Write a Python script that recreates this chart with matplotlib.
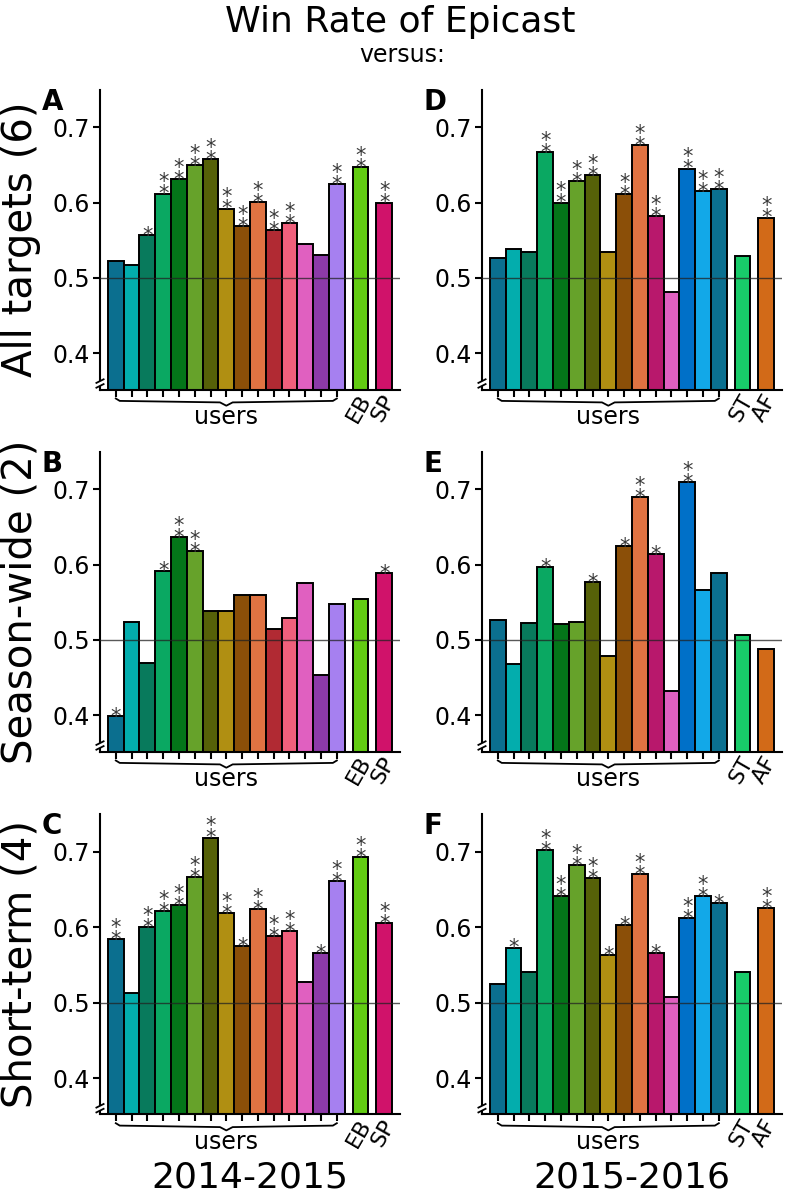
import matplotlib.pyplot as plt
import matplotlib.transforms as mtransforms
from matplotlib.patches import Rectangle

# colours of the bars, one per forecaster
colors_1415 = ["#0b6f8f", "#03adad", "#087a5c", "#0aa862", "#047519", "#66a22a",
               "#566108", "#b08f12", "#8b4f08", "#e07342", "#b12a33", "#f0607c",
               "#e060c0", "#8c3aa8", "#a680f0", "#62cc12", "#d0126a"]
colors_1516 = ["#0b6f8f", "#03adad", "#087a5c", "#0aa862", "#047519", "#66a22a",
               "#566108", "#b08f12", "#8b4f08", "#e07342", "#b8186c", "#e060c0",
               "#0070c8", "#12a8e8", "#0b7090", "#18cc6a", "#d26a18"]
extra_1415 = ["EB", "SP"]
extra_1516 = ["ST", "AF"]

user_pos = list(range(15))
extra_pos = [15.5, 17]

# win rates, 15 users then the two baselines; sig = number of stars
a_vals = [0.522, 0.517, 0.557, 0.612, 0.631, 0.650, 0.658, 0.592, 0.569, 0.601,
          0.563, 0.573, 0.545, 0.530, 0.624, 0.647, 0.600]
a_sig = [0, 0, 1, 2, 2, 2, 2, 2, 2, 2, 2, 2, 0, 0, 2, 2, 2]
b_vals = [0.399, 0.524, 0.469, 0.592, 0.637, 0.618, 0.538, 0.538, 0.560, 0.559,
          0.515, 0.529, 0.575, 0.454, 0.548, 0.554, 0.589]
b_sig = [1, 0, 0, 1, 2, 2, 0, 0, 0, 0, 0, 0, 0, 0, 0, 0, 1]
c_vals = [0.584, 0.513, 0.600, 0.622, 0.629, 0.667, 0.719, 0.619, 0.575, 0.624,
          0.588, 0.595, 0.528, 0.566, 0.661, 0.693, 0.605]
c_sig = [2, 0, 2, 2, 2, 2, 2, 2, 1, 2, 2, 2, 0, 1, 2, 2, 2]
d_vals = [0.526, 0.538, 0.535, 0.667, 0.600, 0.629, 0.636, 0.535, 0.611, 0.676,
          0.582, 0.482, 0.645, 0.615, 0.618, 0.529, 0.580]
d_sig = [0, 0, 0, 2, 2, 2, 2, 0, 2, 2, 2, 0, 2, 2, 2, 0, 2]
e_vals = [0.527, 0.468, 0.523, 0.597, 0.521, 0.524, 0.577, 0.479, 0.625, 0.689,
          0.614, 0.432, 0.709, 0.566, 0.589, 0.506, 0.488]
e_sig = [0, 0, 0, 1, 0, 0, 1, 0, 1, 2, 1, 0, 2, 0, 0, 0, 0]
f_vals = [0.525, 0.573, 0.540, 0.702, 0.641, 0.682, 0.665, 0.563, 0.603, 0.671,
          0.566, 0.507, 0.612, 0.641, 0.632, 0.540, 0.626]
f_sig = [0, 1, 0, 2, 2, 2, 2, 1, 1, 2, 1, 0, 2, 2, 1, 0, 2]

row_labels = ["All targets (6)", "Season-wide (2)", "Short-term (4)"]
col_labels = ["2014-2015", "2015-2016"]

W, H = 787, 1197
fig = plt.figure(figsize=(W / 100, H / 100), dpi=100)

lefts = [100, 482]
bottoms = [389.5, 751.5, 1114.2]
axw, axh = 300, 300


def panel(ax, vals, sig, colors, extra, letter):
    pos = user_pos + extra_pos
    ax.bar(pos, vals, width=1.0, color=colors, edgecolor="black",
           linewidth=1.4, zorder=2)
    ax.axhline(0.5, color="#222222", lw=1.0, alpha=0.75, zorder=3)
    for x, v, s in zip(pos, vals, sig):
        if s:
            ax.annotate("\n".join(["*"] * s), (x, v), xytext=(0, -7.8),
                        textcoords="offset points", ha="center", va="bottom",
                        fontsize=15, linespacing=0.5, color="#3a3a3a")
    ax.set_xlim(-1.0, 18.0)
    ax.set_ylim(0.352, 0.75)
    ax.set_yticks([0.4, 0.5, 0.6, 0.7])
    ax.set_yticklabels(["0.4", "0.5", "0.6", "0.7"])
    ax.set_xticks(user_pos)
    ax.set_xticklabels([])
    for sp in ["top", "right"]:
        ax.spines[sp].set_visible(False)
    for sp in ["left", "bottom"]:
        ax.spines[sp].set_linewidth(1.5)
    ax.tick_params(axis="y", labelsize=17, length=5, width=1.5, pad=2)
    ax.tick_params(axis="x", length=5, width=1.5)

    trans = mtransforms.blended_transform_factory(ax.transData, ax.transAxes)
    # brace under the user bars
    bx = [0, 0.25, 6.6, 7, 7.4, 13.75, 14]
    by = [-0.030, -0.038, -0.043, -0.054, -0.043, -0.038, -0.030]
    ax.plot(bx, by, color="black", lw=1.3, transform=trans, clip_on=False)
    ax.text(7, -0.093, "users", transform=trans, ha="center", va="center",
            fontsize=17)
    for x, name in zip(extra_pos, extra):
        ax.text(x + 0.35, -0.022, name, transform=trans, rotation=60,
                rotation_mode="anchor", ha="right", va="center", fontsize=16)

    # axis break mark on the left spine
    ax.add_patch(Rectangle((-0.02, 0.012), 0.04, 0.016, transform=ax.transAxes,
                           facecolor="white", edgecolor="none", clip_on=False,
                           zorder=5))
    for y0 in (0.012, 0.028):
        ax.plot([-0.012, 0.012], [y0 - 0.006, y0 + 0.006], color="black",
                lw=1.3, transform=ax.transAxes, clip_on=False, zorder=6)

    fig.text((ax.get_position().x0 * W - 58) / W,
             ax.get_position().y1 + 2 / H, letter, fontsize=20,
             fontweight="bold", ha="left", va="top")


data = [[(a_vals, a_sig), (b_vals, b_sig), (c_vals, c_sig)],
        [(d_vals, d_sig), (e_vals, e_sig), (f_vals, f_sig)]]
letters = [["A", "B", "C"], ["D", "E", "F"]]
colors = [colors_1415, colors_1516]
extras = [extra_1415, extra_1516]

for c in range(2):
    for r in range(3):
        ax = fig.add_axes([lefts[c] / W, 1 - bottoms[r] / H, axw / W, axh / H])
        vals, sig = data[c][r]
        panel(ax, vals, sig, colors[c], extras[c], letters[c][r])

for r in range(3):
    yc = 1 - (bottoms[r] - axh / 2) / H
    fig.text(21 / W, yc, row_labels[r], rotation=90, fontsize=29,
             ha="center", va="center")

for c in range(2):
    fig.text((lefts[c] + axw / 2) / W, 9 / H, col_labels[c], fontsize=26,
             ha="center", va="baseline")

fig.text(400 / W, 1 - 32 / H, "Win Rate of Epicast", fontsize=26,
         ha="center", va="baseline")
fig.text(402 / W, 1 - 62 / H, "versus:", fontsize=17, ha="center",
         va="baseline")

fig.savefig("out.png", dpi=100)
